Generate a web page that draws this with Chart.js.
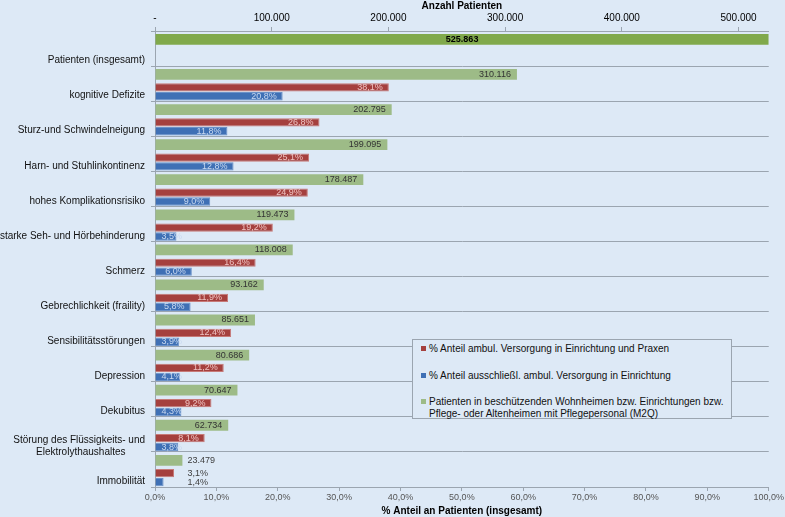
<!DOCTYPE html>
<html>
<head>
<meta charset="utf-8">
<script src="https://cdn.jsdelivr.net/npm/chart.js@4/dist/chart.umd.min.js"></script>
<style>
  body { margin: 0; background: #dde9f6; }
  #wrap { position: relative; width: 785px; height: 517px; background: #dde9f6; }
  #legend {
    position: absolute; left: 412px; top: 339px; width: 320px; height: 80px;
    box-sizing: border-box; border: 1px solid #9ba5b0; background: #dde9f6;
    font: 10px "Liberation Sans", Arial, sans-serif; color: #111; padding: 3px 0 0 8px;
  }
  #legend div { position: relative; padding-left: 8px; line-height: 11.5px; margin-bottom: 15px; }
  #legend span { position: absolute; left: 0; top: 3px; width: 5px; height: 5px; }
</style>
</head>
<body>
<div id="wrap">
  <canvas id="chart"></canvas>
  <div id="legend"></div>
</div>
<script>
// Kategorien (von oben nach unten)
var categories = [
    "Patienten (insgesamt)",
    "kognitive Defizite",
    "Sturz-und Schwindelneigung",
    "Harn- und Stuhlinkontinenz",
    "hohes Komplikationsrisiko",
    "starke Seh- und Hörbehinderung",
    "Schmerz",
    "Gebrechlichkeit (fraility)",
    "Sensibilitätsstörungen",
    "Depression",
    "Dekubitus",
    ["Störung des Flüssigkeits- und", "Elektrolythaushaltes\u00a0\u00a0\u00a0\u00a0\u00a0\u00a0\u00a0"],
    "Immobilität"
];
// Anzahl Patienten (obere Achse)
var patienten = [525863, 310116, 202795, 199095, 178487, 119473, 118008, 93162, 85651, 80686, 70647, 62734, 23479];
// % Anteil ambul. Versorgung in Einrichtung und Praxen
var anteilAmbul = [null, 38.1, 26.8, 25.1, 24.9, 19.2, 16.4, 11.9, 12.4, 11.2, 9.2, 8.1, 3.1];
// % Anteil ausschließl. ambul. Versorgung in Einrichtung
var anteilAusschl = [null, 20.8, 11.8, 12.8, 9.0, 3.5, 6.0, 5.8, 3.9, 4.1, 4.3, 3.8, 1.4];
var percentTicks = [0, 10, 20, 30, 40, 50, 60, 70, 80, 90, 100];
var countTicks = [0, 100000, 200000, 300000, 400000, 500000];

var legendItems = [
    ["#a5403e", "% Anteil ambul. Versorgung in Einrichtung und Praxen"],
    ["#3f70b5", "% Anteil ausschließl. ambul. Versorgung in Einrichtung"],
    ["#9dbb87", "Patienten in beschützenden Wohnheimen bzw. Einrichtungen bzw. Pflege- oder Altenheimen mit Pflegepersonal (M2Q)"]
];

function fmtCount(v){
    return String(v).replace(/\B(?=(\d{3})+(?!\d))/g, ".");
}
function fmtPct(v){
    return v.toFixed(1).replace(".", ",") + "%";
}

var legend = document.getElementById("legend");
legendItems.forEach(function(it){
    var d = document.createElement("div");
    d.innerHTML = '<span style="background:' + it[0] + '"></span>' + it[1];
    legend.appendChild(d);
});

Chart.defaults.font.family = '"Liberation Sans", Arial, sans-serif';
Chart.defaults.font.size = 10;
Chart.defaults.color = "#111";

var gridColor = "#9ba5b0";

var valueLabels = {
    id: "valueLabels",
    afterDatasetsDraw: function(chart){
        var ctx = chart.ctx;
        ctx.save();
        ctx.textBaseline = "middle";
        // rightmost bar end per category, for labels that go outside
        var ends = [];
        chart.data.datasets.forEach(function(ds, di){
            chart.getDatasetMeta(di).data.forEach(function(bar, i){
                if (ds.data[i] == null) return;
                ends[i] = Math.max(ends[i] || 0, bar.x);
            });
        });
        chart.data.datasets.forEach(function(ds, di){
            if (!ds.fmt) return;
            var meta = chart.getDatasetMeta(di);
            meta.data.forEach(function(bar, i){
                var v = ds.data[i];
                if (v == null) return;
                var text = ds.fmt(v);
                if (i === 0 && ds.totalFont) {
                    ctx.font = ds.totalFont;
                    ctx.fillStyle = "#000";
                    ctx.textAlign = "center";
                    ctx.fillText(text, (bar.x + bar.base) / 2, bar.y);
                    return;
                }
                ctx.font = '9px "Liberation Sans", Arial, sans-serif';
                ctx.textAlign = "left";
                var w = ctx.measureText(text).width;
                var len = bar.x - bar.base;
                if (len < w) {
                    ctx.fillStyle = "#404040";
                    ctx.fillText(text, ends[i] + 5, bar.y);
                } else {
                    ctx.fillStyle = ds.labelColor;
                    ctx.fillText(text, Math.max(bar.x - 6 - w, bar.base + 6), bar.y);
                }
            });
        });
        ctx.restore();
    }
};

new Chart(document.getElementById("chart").getContext("2d"), {
    type: "bar",
    data: {
        labels: categories,
        datasets: [
            {
                label: legendItems[2][1],
                data: patienten,
                xAxisID: "x2",
                backgroundColor: patienten.map(function(v, i){ return i === 0 ? "#80a94b" : "#9dbb87"; }),
                categoryPercentage: 0.695,
                barPercentage: 1.77,
                fmt: fmtCount,
                labelColor: "#333",
                totalFont: 'bold 9px "Liberation Sans", Arial, sans-serif'
            },
            {
                label: "",
                data: categories.map(function(){ return null; }),
                xAxisID: "x"
            },
            {
                label: legendItems[0][1],
                data: anteilAmbul,
                xAxisID: "x",
                backgroundColor: "#a5403e",
                borderColor: "#c77a78",
                borderWidth: 1,
                categoryPercentage: 0.855,
                barPercentage: 1.1,
                fmt: fmtPct,
                labelColor: "#efc3c2"
            },
            {
                label: legendItems[1][1],
                data: anteilAusschl,
                xAxisID: "x",
                backgroundColor: "#3f70b5",
                borderColor: "#6a91c8",
                borderWidth: 1,
                categoryPercentage: 0.961,
                barPercentage: 1.0,
                fmt: fmtPct,
                labelColor: "#c9d9f0"
            }
        ]
    },
    options: {
        indexAxis: "y",
        responsive: true,
        maintainAspectRatio: false,
        animation: false,
        layout: { padding: { left: 0, right: 15, top: 0, bottom: 0 } },
        plugins: {
            legend: { display: false },
            tooltip: { enabled: false }
        },
        scales: {
            y: {
                type: "category",
                grid: { color: gridColor, tickLength: 4, offset: true },
                border: { color: gridColor },
                ticks: { labelOffset: 12, padding: 6, color: "#111", font: { size: 10 } },
                afterFit: function(s){ s.width = 155; }
            },
            x: {
                position: "bottom",
                min: 0,
                max: 100,
                afterBuildTicks: function(s){ s.ticks = percentTicks.map(function(v){ return { value: v }; }); },
                ticks: { callback: function(v){ return fmtPct(v); }, color: "#555", font: { size: 9 }, padding: 1 },
                grid: { drawOnChartArea: false, tickLength: 4, color: gridColor },
                border: { color: gridColor },
                title: { display: true, text: "% Anteil an Patienten (insgesamt)", font: { size: 10, weight: "bold" }, color: "#000", padding: 0 },
                afterFit: function(s){ s.height = 30; }
            },
            x2: {
                position: "top",
                min: 0,
                max: patienten[0],
                afterBuildTicks: function(s){ s.ticks = countTicks.map(function(v){ return { value: v }; }); },
                ticks: { callback: function(v){ return v === 0 ? "-" : fmtCount(v); }, color: "#000", font: { size: 10 }, padding: 3 },
                grid: { drawOnChartArea: false, tickLength: 4, color: gridColor },
                border: { color: gridColor },
                title: { display: true, text: "Anzahl Patienten", font: { size: 10, weight: "bold" }, color: "#000", padding: 0 },
                afterFit: function(s){ s.height = 31; }
            }
        }
    },
    plugins: [valueLabels]
});
</script>
</body>
</html>
